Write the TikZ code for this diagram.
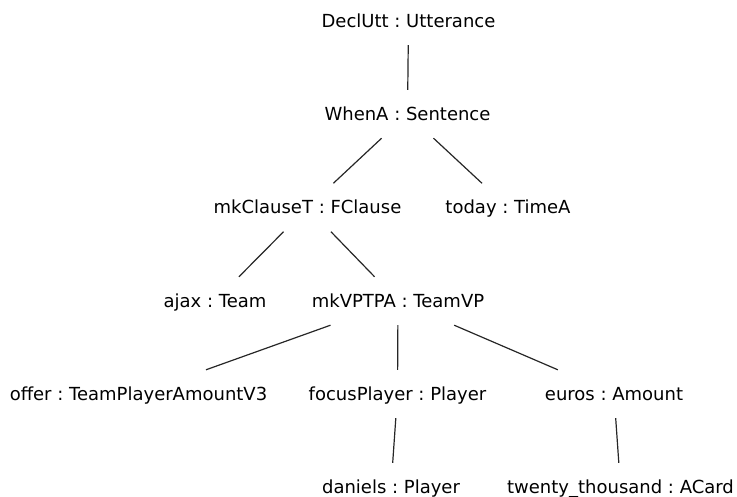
\documentclass[tikz,border=0pt]{standalone}
\usepackage{fontspec}
\setmainfont{DejaVu Sans}
\frenchspacing
\begin{document}
\begin{tikzpicture}[x=1pt,y=1pt,
  tnode/.style={anchor=base, inner xsep=4pt, inner ysep=16pt,
    text height=14pt, text depth=2pt, font=\fontsize{18pt}{22pt}\selectfont},
  edge/.style={draw=black!85, line width=1.2pt}]
  \useasboundingbox (0,0) rectangle (737,-496);
  % rows are placed by their baselines
  \node[tnode] (decl)   at (408.5,-27)   {DeclUtt : Utterance};
  \node[tnode] (when)   at (407.5,-120)  {WhenA : Sentence};
  \node[tnode] (clause) at (307.5,-213.5){mkClauseT : FClause};
  \node[tnode] (today)  at (508,-213.5)  {today : TimeA};
  \node[tnode] (ajax)   at (215,-307)    {ajax : Team};
  \node[tnode] (vp)     at (398,-307)    {mkVPTPA : TeamVP};
  \node[tnode] (offer)  at (138.5,-400)  {offer : TeamPlayerAmountV3};
  \node[tnode] (focus)  at (397.5,-400)  {focusPlayer : Player};
  \node[tnode] (euros)  at (614,-400)    {euros : Amount};
  \node[tnode] (daniels) at (391,-493)   {daniels : Player};
  \node[tnode] (twenty) at (620.5,-493)  {twenty\_thousand : ACard};
  % tree edges
  \draw[edge] (decl) -- (when);
  \draw[edge] (when) -- (clause);
  \draw[edge] (when) -- (today);
  \draw[edge] (clause) -- (ajax);
  \draw[edge] (clause) -- (vp);
  \draw[edge] (vp) -- (offer);
  \draw[edge] (vp) -- (focus);
  \draw[edge] (vp) -- (euros);
  \draw[edge] (focus) -- (daniels);
  \draw[edge] (euros) -- (twenty);
\end{tikzpicture}
\end{document}
